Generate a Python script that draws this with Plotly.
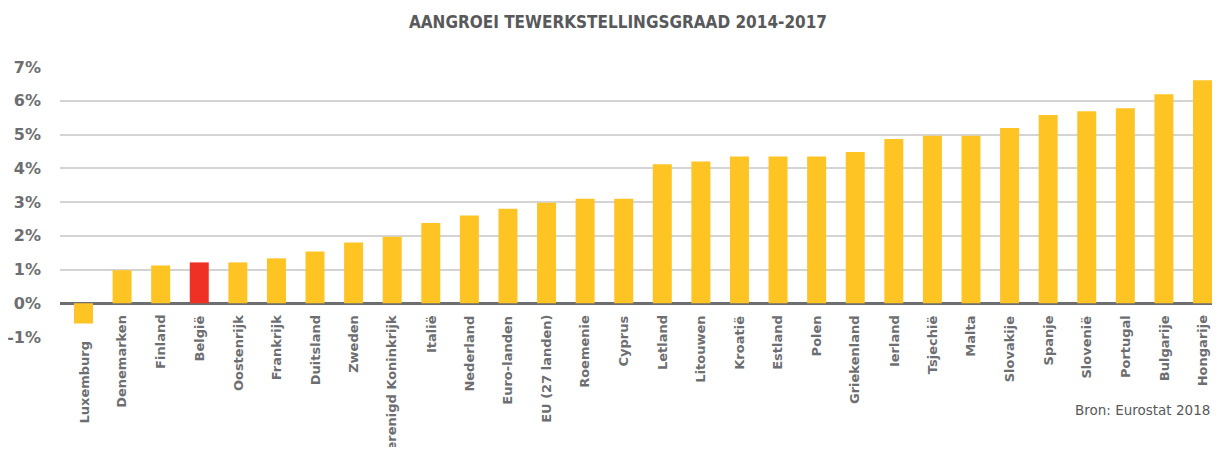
import plotly.graph_objects as go

countries = ["Luxemburg", "Denemarken", "Finland", "België", "Oostenrijk", "Frankrijk",
             "Duitsland", "Zweden", "Verenigd Koninkrijk", "Italië", "Nederland",
             "Euro-landen", "EU (27 landen)", "Roemenie", "Cyprus", "Letland", "Litouwen",
             "Kroatië", "Estland", "Polen", "Griekenland", "Ierland", "Tsjechië", "Malta",
             "Slovakije", "Spanje", "Slovenië", "Portugal", "Bulgarije", "Hongarije"]
growth = [-0.6, 0.98, 1.12, 1.21, 1.21, 1.33, 1.53, 1.80, 1.97, 2.38, 2.60,
          2.80, 2.98, 3.10, 3.10, 4.12, 4.20, 4.35, 4.35, 4.35, 4.48, 4.87, 4.96, 4.96,
          5.19, 5.58, 5.69, 5.78, 6.19, 6.61]
y_ticks = [-1, 0, 1, 2, 3, 4, 5, 6, 7]
y_ticklabels = ["-1%", "0%", "1%", "2%", "3%", "4%", "5%", "6%", "7%"]
highlight = "België"

YELLOW = "#fdc424"
RED = "#ee3124"
LABEL_GREY = "#6d6e71"
colors = [RED if c == highlight else YELLOW for c in countries]

fig = go.Figure(go.Bar(x=countries, y=growth, marker=dict(color=colors, line=dict(width=0))))

# category labels sit just below the zero line (or below a negative bar)
annotations = []
for c, v in zip(countries, growth):
    annotations.append(dict(
        text=c, x=c, y=min(0, v), xref="x", yref="y",
        xanchor="center", yanchor="top", textangle=-90, showarrow=False,
        yshift=-11 if v >= 0 else -16, borderpad=0,
        font=dict(family="DejaVu Sans", size=13, color=LABEL_GREY, weight=700)))
annotations.append(dict(text="Bron: Eurostat 2018", xref="paper", yref="paper",
                        x=1.0, xanchor="right", y=-0.2714, yanchor="middle", showarrow=False,
                        font=dict(family="DejaVu Sans", size=13.5, color="#58595b")))

fig.update_layout(
    width=1204, height=439,
    margin=dict(l=52, r=0, t=58.7, b=109.5, autoexpand=False),
    plot_bgcolor="white", paper_bgcolor="white",
    bargap=0.508,
    showlegend=False,
    title=dict(text="AANGROEI TEWERKSTELLINGSGRAAD 2014-2017",
               x=0.5066, xanchor="center", y=0.969, yanchor="middle",
               font=dict(family="DejaVu Sans Condensed, DejaVu Sans", size=17,
                         color="#58595b", weight=700)),
    annotations=annotations,
)
fig.update_xaxes(
    range=[-0.609, 29.246], showticklabels=False, showgrid=False, showline=False, ticks="",
    automargin=False, fixedrange=True,
)
fig.update_yaxes(
    range=[-1, 7], tickvals=y_ticks, ticktext=y_ticklabels,
    showgrid=True, gridcolor="#d4d4d4", gridwidth=1.5,
    zeroline=True, zerolinecolor="#6d6e71", zerolinewidth=2.5,
    showline=False, ticks="", ticklabelstandoff=18, automargin=False,
    tickfont=dict(family="DejaVu Sans", size=16, color=LABEL_GREY, weight=700),
)

fig.write_html("out.html")
